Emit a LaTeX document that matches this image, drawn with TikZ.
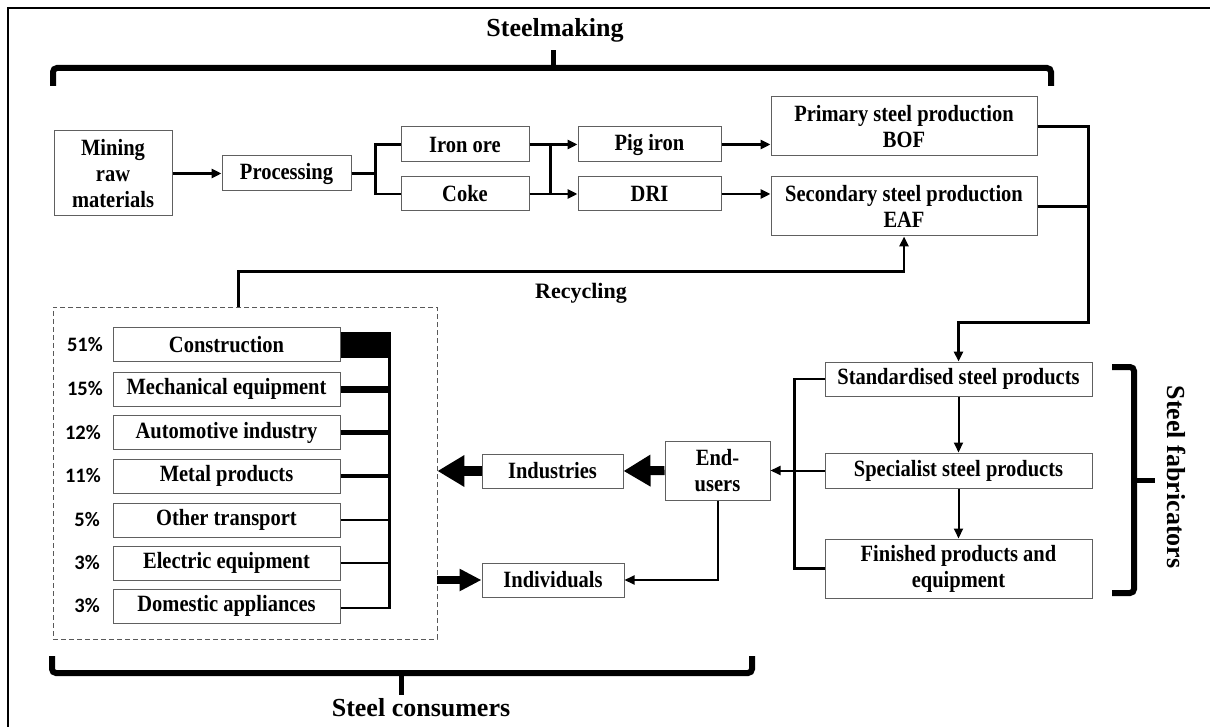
\documentclass[tikz,border=0pt]{standalone}
\usepackage{fontspec}
\setmainfont{Liberation Serif}
\newfontfamily\boxfont{Liberation Serif}[FakeStretch=0.88]
\newfontfamily\pctfont{Carlito}
\usetikzlibrary{arrows.meta,calc}
\tikzset{
  box/.style={draw=gray!75!black, line width=1pt, fill=white, inner sep=0pt, align=center,
    font=\boxfont\bfseries\fontsize{23.3}{26}\selectfont},
  pct/.style={anchor=east, inner sep=0pt, font=\pctfont\bfseries\fontsize{20.5}{24}\selectfont},
  conn/.style={line width=2.6pt, draw=black},
  thin/.style={line width=2pt, draw=black},
  tip/.style={-{Triangle[length=10pt,width=9pt]}},
  bigtip/.style={-{Triangle[length=27pt,width=30pt]}},
  brace/.style={line width=6pt, rounded corners=4pt, line cap=butt},
  head/.style={font=\bfseries\fontsize{26}{30}\selectfont, inner sep=0pt},
  dashbox/.style={draw=gray!70!black, dashed, line width=0.9pt, dash pattern=on 5pt off 3pt, inner sep=0pt}
}
\begin{document}
\begin{tikzpicture}[x=1pt, y=-1pt]
\useasboundingbox (0,0) rectangle (1210,727);
\draw[line width=2pt] (8,8) rectangle (1225,745);

% steelmaking row
\node[box, minimum width=118pt, minimum height=85pt] (mining) at (113,173.5) {Mining\\raw\\materials};
\node[box, minimum width=129pt, minimum height=35pt] (proc) at (286.5,173.5) {Processing};
\node[box, minimum width=128pt, minimum height=35pt] (iron) at (465,144.5) {Iron ore};
\node[box, minimum width=128pt, minimum height=34pt] (coke) at (465,194) {Coke};
\node[box, minimum width=143pt, minimum height=35pt] (pig) at (649.5,144.5) {Pig iron};
\node[box, minimum width=143pt, minimum height=34pt] (dri) at (649.5,194) {DRI};
\node[box, minimum width=266pt, minimum height=59pt] (bof) at (904,126.5) {Primary steel production\\BOF};
\node[box, minimum width=266pt, minimum height=59pt] (eaf) at (904,206.5) {Secondary steel production\\EAF};

% fabricators
\node[box, minimum width=267pt, minimum height=34pt] (std) at (958.5,379) {Standardised steel products};
\node[box, minimum width=267pt, minimum height=35pt] (spec) at (958.5,470.5) {Specialist steel products};
\node[box, minimum width=267pt, minimum height=59pt] (fin) at (958.5,568.5) {Finished products and\\equipment};

% users
\node[box, minimum width=105pt, minimum height=59pt] (eu) at (717.5,470.5) {End-\\users};
\node[box, minimum width=141pt, minimum height=34pt] (ind) at (552.5,471) {Industries};
\node[box, minimum width=142pt, minimum height=34pt] (indiv) at (553,580) {Individuals};

% consumers
\node[dashbox, minimum width=384pt, minimum height=332pt] (cons) at (245,473) {};
\node[box, minimum width=227pt, minimum height=34pt] (c1) at (226.5,344.5) {Construction};
\node[box, minimum width=227pt, minimum height=34pt] (c2) at (226.5,389) {Mechanical equipment};
\node[box, minimum width=227pt, minimum height=34pt] (c3) at (226.5,432.5) {Automotive industry};
\node[box, minimum width=227pt, minimum height=34pt] (c4) at (226.5,476) {Metal products};
\node[box, minimum width=227pt, minimum height=34pt] (c5) at (226.5,520) {Other transport};
\node[box, minimum width=227pt, minimum height=34pt] (c6) at (226.5,563) {Electric equipment};
\node[box, minimum width=227pt, minimum height=34pt] (c7) at (226.5,606) {Domestic appliances};
\node[pct] (p1) at (103,344.5) {51\%};
\node[pct] (p2) at (103,389) {15\%};
\node[pct] (p3) at (101,432.5) {12\%};
\node[pct] (p4) at (101,476) {11\%};
\node[pct] (p5) at (100,520) {5\%};
\node[pct] (p6) at (100,563) {3\%};
\node[pct] (p7) at (100,606) {3\%};
\coordinate (bus) at (389,0);

% headings
\node[head] (hsm) at (555,30) {Steelmaking};
\node[head] (hsc) at (421,708) {Steel consumers};
\node[head, rotate=-90] (hsf) at (1177,477) {Steel fabricators};
\node[font=\bfseries\fontsize{22}{26}\selectfont, inner sep=0pt] (hrec) at (581,293) {Recycling};

% braces
\draw[brace] (53,86) -- (53,68) -- (1051,68) -- (1051,86);
\draw[line width=5pt] (553,70) -- (553,50);
\draw[brace] (52,656) -- (52,673) -- (752,673) -- (752,656);
\draw[line width=5pt] (401,671) -- (401,695);
\draw[brace] (1112,367) -- (1134,367) -- (1134,593) -- (1112,593);
\draw[line width=5pt] (1132,480) -- (1155,480);

% steelmaking connectors
\draw[conn, tip] (mining.east) -- (proc.west);
\draw[conn] (proc.east) -- ++(24,0) |- (iron.west);
\draw[conn] (proc.east) -- ++(24,0) |- (coke.west);
\draw[conn, tip] (iron.east) -- (pig.west);
\draw[conn, tip] (coke.east) -- (dri.west);
\draw[conn] ([xshift=21pt]iron.east) -- ([xshift=21pt]coke.east);
\draw[conn, tip] (pig.east) -- (pig.east -| bof.west);
\draw[conn, tip] (dri.east) -- (dri.east -| eaf.west);
\draw[conn, tip] (bof.east) -- ++(51,0) -- ++(0,196) -| (std.north);
\draw[conn] (eaf.east) -- ++(51,0);

% recycling
\draw[conn, tip] ([xshift=186pt]cons.north west) -- ++(0,-35) -| (eaf.south);

% fabricators connectors
\draw[thin, tip] (std.south) -- (spec.north);
\draw[thin, tip] (spec.south) -- (fin.north);
\draw[conn] (std.west) -- ++(-30,0) |- (fin.west);
\draw[thin, tip] (spec.west) -- (eu.east);

% users connectors
\draw[line width=9pt, bigtip] (eu.west) -- (ind.east);
\draw[line width=10pt, bigtip] (ind.west) -- (ind.west -| cons.east);
\draw[line width=8pt, -{Triangle[length=22pt,width=21pt]}] (cons.east |- indiv.west) -- (indiv.west);
\draw[thin, tip] (eu.south) |- (indiv.east);

% consumer shares
\draw[line width=26pt] (c1.east) -- ([xshift=1.5pt]c1.east -| bus);
\draw[line width=7pt] (c2.east) -- (c2.east -| bus);
\draw[line width=5pt] (c3.east) -- (c3.east -| bus);
\draw[line width=4pt] (c4.east) -- (c4.east -| bus);
\draw[line width=2pt] (c5.east) -- (c5.east -| bus);
\draw[line width=1.5pt] (c6.east) -- (c6.east -| bus);
\draw[line width=1.5pt] ([yshift=-2pt]c7.east) -- ([yshift=-2pt]c7.east -| bus);
\draw[line width=3pt] (bus |- c1.east) ++(0,-12.5) -- ([yshift=-2.8pt]bus |- c7.east);
\end{tikzpicture}
\end{document}
